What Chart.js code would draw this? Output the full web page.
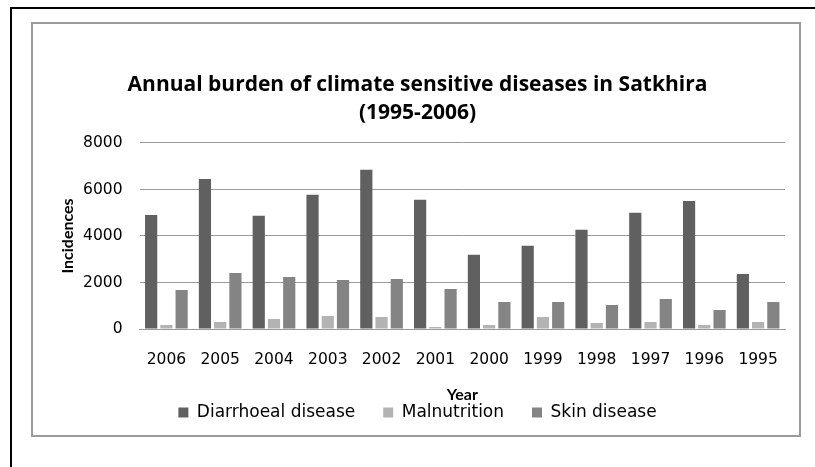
<!DOCTYPE html>
<html>
<head>
<meta charset="utf-8">
<script src="https://cdn.jsdelivr.net/npm/chart.js@4/dist/chart.umd.min.js"></script>
<style>
  html, body { margin: 0; padding: 0; background: #fff; }
  #page { position: relative; width: 815px; height: 467px; overflow: hidden; }
  #outer { position: absolute; left: 10px; top: 7px; width: 820px; height: 470px;
           border-top: 2px solid #000; border-left: 2px solid #000; }
  #frame { position: absolute; left: 31px; top: 22px; width: 766px; height: 411px;
           border: 2px solid #9a9a9a; }
  #chart { position: absolute; left: 0; top: 0; }
</style>
</head>
<body>
<div id="page">
  <div id="outer"></div>
  <div id="frame"></div>
  <canvas id="chart" width="815" height="467"></canvas>
</div>
<script>
// Data
const years = ['2006', '2005', '2004', '2003', '2002', '2001', '2000', '1999', '1998', '1997', '1996', '1995'];
const diarrhoeal = [4900, 6450, 4870, 5770, 6850, 5560, 3190, 3580, 4270, 5000, 5510, 2370];
const malnutrition = [170, 300, 430, 560, 520, 90, 170, 520, 260, 300, 170, 300];
const skin = [1680, 2410, 2240, 2110, 2150, 1720, 1160, 1160, 1030, 1290, 820, 1160];
const yTicks = [0, 2000, 4000, 6000, 8000];

// fonts: wide sans for ticks/legend, narrower bold for axis titles
const tickFont = '"DejaVu Sans", sans-serif';
const axisTitleFont = 'Lato, sans-serif';
const titleFont = '"Open Sans", sans-serif';
Chart.defaults.font.family = tickFont;
Chart.defaults.color = '#000';

const ctx = document.getElementById('chart').getContext('2d');
const chart = new Chart(ctx, {
  type: 'bar',
  data: {
    labels: years,
    datasets: [
      { label: 'Diarrhoeal disease', data: diarrhoeal, backgroundColor: '#606060' },
      { label: 'Malnutrition', data: malnutrition, backgroundColor: '#b3b3b3' },
      { label: 'Skin disease', data: skin, backgroundColor: '#848484' }
    ]
  },
  options: {
    responsive: false,
    animation: false,
    categoryPercentage: 0.85,
    barPercentage: 0.8,
    layout: {
      padding: { top: 71, left: 50, right: 30, bottom: 36 }
    },
    plugins: {
      title: {
        display: true,
        text: ['Annual burden of climate sensitive diseases in Satkhira', '(1995-2006)'],
        font: { family: titleFont, size: 21, weight: 'bold', lineHeight: 1.333 },
        color: '#000',
        padding: { top: 0, bottom: 16 }
      },
      legend: {
        position: 'bottom',
        labels: {
          boxWidth: 10,
          boxHeight: 10,
          padding: 28,
          font: { size: 17 },
          color: '#000'
        }
      },
      tooltip: { enabled: false }
    },
    scales: {
      x: {
        grid: { drawOnChartArea: false, drawTicks: true, tickLength: 21.4, tickColor: 'transparent' },
        border: { display: true, color: '#9a9a9a', width: 1 },
        ticks: { padding: 0, font: { size: 15.5 }, color: '#000' },
        title: {
          display: true,
          text: 'Year',
          font: { family: axisTitleFont, size: 16, weight: 'bold' },
          color: '#000',
          padding: { top: 0, bottom: -28.6 }
        },
        afterFit: (scale) => { scale.height = 47; }
      },
      y: {
        min: 0,
        max: 8000,
        afterBuildTicks: (scale) => { scale.ticks = yTicks.map(v => ({ value: v })); },
        grid: { color: '#9a9a9a', lineWidth: 1, drawTicks: false },
        border: { display: false },
        ticks: {
          padding: 17,
          font: { size: 15.5 },
          color: '#000',
          callback: (v) => String(v)
        },
        title: {
          display: true,
          text: 'Incidences',
          font: { family: axisTitleFont, size: 16, weight: 'bold' },
          color: '#000',
          padding: { top: 8.4, bottom: 0 }
        },
        afterFit: (scale) => { scale.width = 89.5; }
      }
    }
  }
});
</script>
</body>
</html>
